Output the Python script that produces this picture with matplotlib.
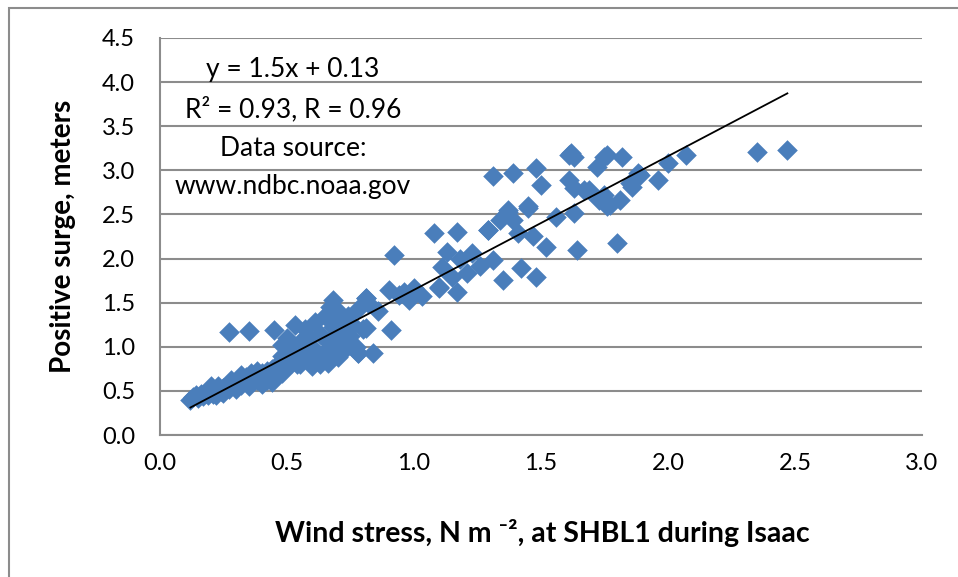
import matplotlib.pyplot as plt
from matplotlib.patches import Rectangle
import numpy as np

plt.rcParams['font.family'] = ['Lato', 'DejaVu Sans']

# wind stress (N m-2) and positive surge (m)
stress = [0.12, 0.13, 0.14, 0.15, 0.16, 0.17, 0.18, 0.19, 0.20, 0.21,
          0.22, 0.23, 0.24, 0.25, 0.26, 0.27, 0.28, 0.29, 0.30, 0.31,
          0.32, 0.33, 0.34, 0.35, 0.36, 0.37, 0.38, 0.39, 0.40, 0.41,
          0.42, 0.43, 0.44, 0.45, 0.46, 0.47, 0.48, 0.49,
          0.20, 0.25, 0.30, 0.32, 0.35, 0.38, 0.40, 0.42, 0.44, 0.46,
          0.22, 0.28, 0.36, 0.48, 0.50, 0.52,
          0.27, 0.35,
          0.45, 0.47, 0.48, 0.50, 0.50, 0.52, 0.53, 0.54, 0.55, 0.56,
          0.57, 0.58, 0.59, 0.60, 0.61, 0.62, 0.63, 0.64, 0.65, 0.66,
          0.66, 0.67, 0.68, 0.68, 0.69, 0.70, 0.70, 0.71, 0.72, 0.72,
          0.73, 0.74, 0.75, 0.76, 0.77, 0.78, 0.78, 0.80, 0.81, 0.82,
          0.84, 0.86, 0.55, 0.60, 0.63, 0.48, 0.50, 0.68, 0.81, 0.91,
          0.81, 0.78,
          0.90, 0.92, 0.94, 0.98, 1.00, 1.03, 1.10, 0.96, 1.00,
          1.08, 1.17, 1.29, 1.37, 1.45, 1.39, 1.34, 1.41, 1.47, 1.52,
          1.13, 1.18, 1.23, 1.11, 1.15, 1.10, 1.17, 1.26, 1.31, 1.35,
          1.42, 1.48, 1.21,
          1.31, 1.39, 1.48, 1.50, 1.61, 1.61, 1.37, 1.45, 1.56, 1.29,
          1.63, 1.75, 1.82, 1.72, 2.07, 2.00, 1.96, 1.88, 1.63, 1.69,
          1.75, 1.76, 1.81, 1.63, 1.64, 1.80, 1.85, 1.67, 1.73, 1.77,
          1.86, 1.89, 1.62, 1.76,
          2.35, 2.47]
surge = [0.40, 0.43, 0.45, 0.42, 0.47, 0.44, 0.48, 0.45, 0.50, 0.47,
         0.52, 0.55, 0.50, 0.53, 0.56, 0.52, 0.58, 0.55, 0.60, 0.64,
         0.57, 0.62, 0.66, 0.60, 0.63, 0.68, 0.62, 0.66, 0.70, 0.64,
         0.72, 0.68, 0.75, 0.66, 0.78, 0.72, 0.80, 0.76,
         0.55, 0.48, 0.52, 0.68, 0.55, 0.72, 0.58, 0.62, 0.60, 0.68,
         0.45, 0.62, 0.70, 0.70, 0.78, 0.82,
         1.17, 1.18,
         1.19, 0.82, 1.02, 0.85, 1.10, 0.90, 1.25, 0.80, 1.05, 0.95,
         1.20, 0.85, 1.10, 1.00, 1.28, 0.88, 1.15, 0.92, 1.35, 1.05,
         0.82, 1.45, 1.22, 0.95, 1.10, 1.40, 0.88, 1.30, 1.02, 1.18,
         0.98, 1.35, 1.12, 1.25, 1.00, 1.43, 0.93, 1.20, 1.55, 1.50,
         0.93, 1.40, 0.80, 0.78, 0.80, 0.90, 1.00, 1.53, 1.21, 1.19,
         1.55, 0.93,
         1.64, 2.04, 1.59, 1.53, 1.64, 1.57, 1.67, 1.62, 1.67,
         2.29, 2.30, 2.32, 2.55, 2.57, 2.44, 2.44, 2.29, 2.25, 2.13,
         2.07, 2.00, 2.06, 1.90, 1.79, 1.68, 1.62, 1.91, 1.98, 1.76,
         1.89, 1.79, 1.84,
         2.93, 2.97, 3.03, 2.83, 3.17, 2.89, 2.53, 2.59, 2.47, 2.32,
         3.15, 3.15, 3.15, 3.04, 3.17, 3.08, 2.89, 2.97, 2.80, 2.78,
         2.72, 2.59, 2.66, 2.52, 2.10, 2.18, 2.86, 2.78, 2.66, 2.61,
         2.81, 2.95, 3.20, 3.17,
         3.21, 3.23]

# linear trend shown on the chart
slope = 1.515
intercept = 0.13
x_ticks = [0.0, 0.5, 1.0, 1.5, 2.0, 2.5, 3.0]
y_ticks = [0.0, 0.5, 1.0, 1.5, 2.0, 2.5, 3.0, 3.5, 4.0, 4.5]

fig = plt.figure(figsize=(9.58, 5.77), dpi=100)
ax = fig.add_axes([0.167, 0.2461, 0.7954, 0.6881])

ax.scatter(stress, surge, marker='D', s=110, color='#4a7ebb', zorder=3,
           linewidths=0)

xl = np.array([min(stress), max(stress)])
ax.plot(xl, slope * xl + intercept, color='black', lw=1.3, zorder=4)

ax.set_xlim(0, 3)
ax.set_ylim(0, 4.5)
ax.set_xticks(x_ticks)
ax.set_yticks(y_ticks)
ax.set_xticklabels([f"{v:.1f}" for v in x_ticks], fontsize=17)
ax.set_yticklabels([f"{v:.1f}" for v in y_ticks], fontsize=17)
ax.tick_params(axis='x', length=0, pad=13)
ax.tick_params(axis='y', length=0, pad=18)

ax.grid(axis='y', color='#8c8c8c', lw=1.5)
ax.set_axisbelow(True)
for s in ['top', 'right']:
    ax.spines[s].set_visible(False)
ax.spines['left'].set_color('#8c8c8c')
ax.spines['left'].set_linewidth(1.5)
ax.spines['bottom'].set_color('#8c8c8c')
ax.spines['bottom'].set_linewidth(1.5)

fig.text(0.566, 0.076, "Wind stress, N m \u207b\u00b2, at SHBL1 during Isaac",
         ha='center', va='center', fontsize=20.5, fontweight='bold')
fig.text(0.066, 0.59, "Positive surge, meters", rotation=90,
         ha='center', va='center', fontsize=20, fontweight='bold')

ann = ["y = 1.5x + 0.13", "R² = 0.93, R = 0.96", "Data source:",
       "www.ndbc.noaa.gov"]
for i, t in enumerate(ann):
    fig.text(0.306, 1 - (70 + 39 * i) / 577, t, ha='center', va='center',
             fontsize=19)

fig.patches.append(Rectangle((9 / 958, -0.1), 1.2, 1.1 - 8 / 577,
                             transform=fig.transFigure, fill=False,
                             edgecolor='#8c8c8c', lw=1.5))

fig.savefig("out.png", dpi=100)
